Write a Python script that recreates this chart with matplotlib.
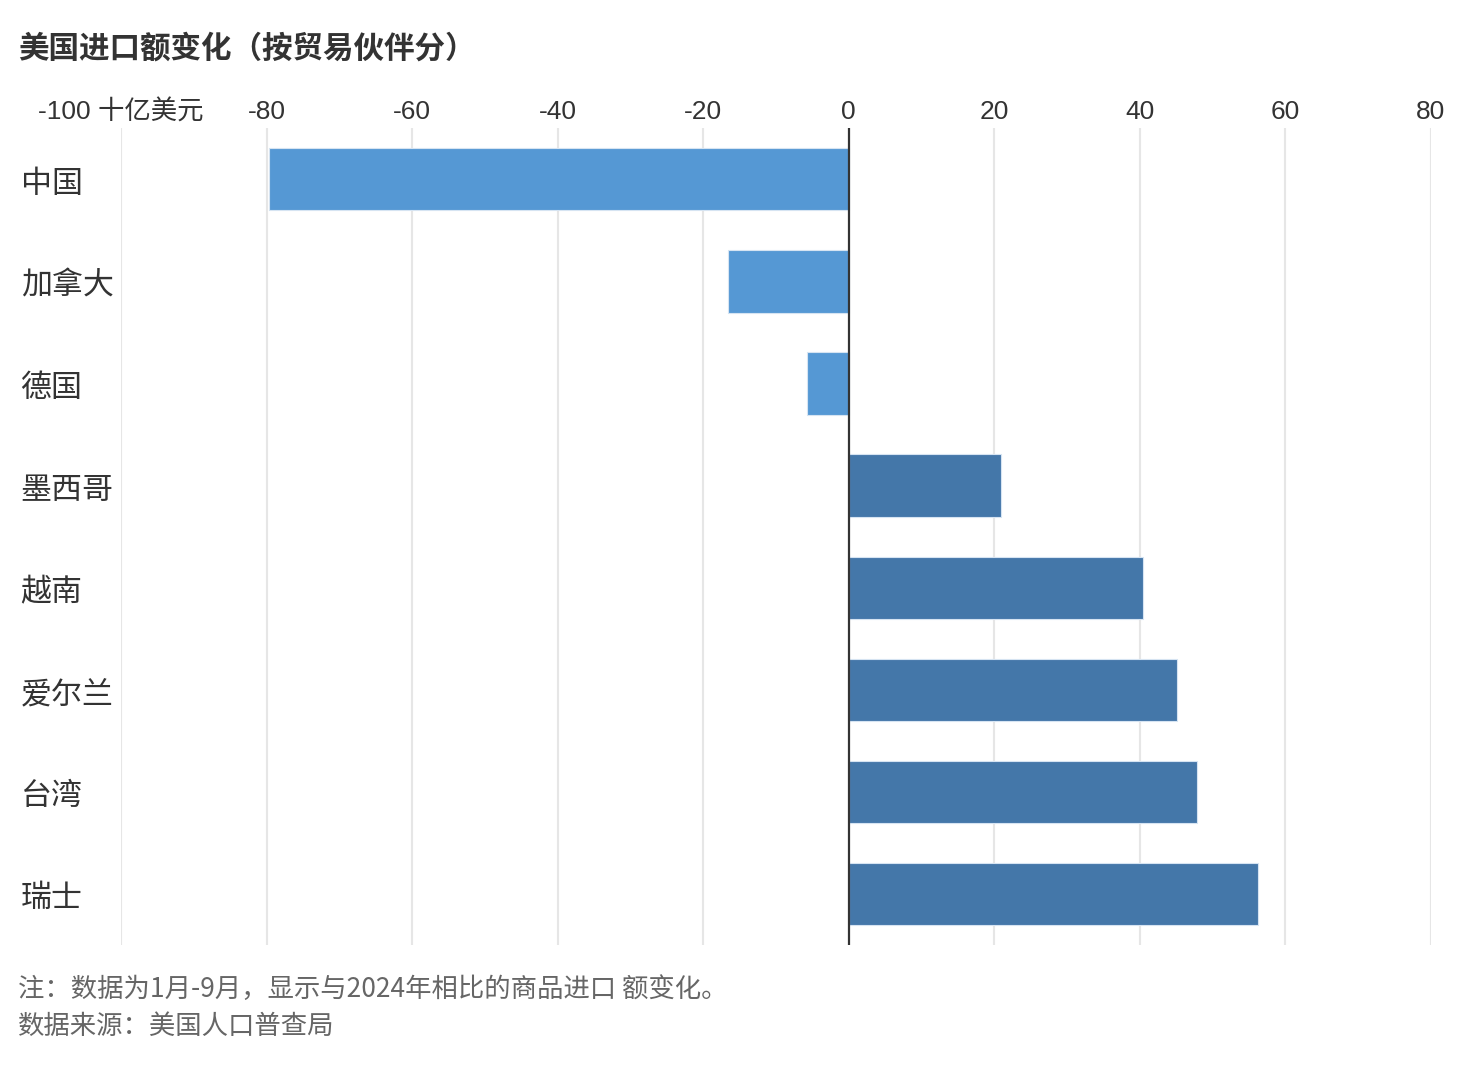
import numpy as np
import matplotlib.pyplot as plt
import matplotlib.transforms as mtransforms

plt.rcParams['font.family'] = ['Liberation Sans', 'Noto Sans CJK SC', 'DejaVu Sans']

# data (billion USD, change vs 2024, Jan-Sep)
partners = ['中国', '加拿大', '德国', '墨西哥', '越南', '爱尔兰', '台湾', '瑞士']
changes = [-79.6, -16.6, -5.8, 20.9, 40.4, 45.1, 47.8, 56.2]
ticks = [-100, -80, -60, -40, -20, 0, 20, 40, 60, 80]
tick_labels = ['-100 十亿美元', '-80', '-60', '-40', '-20', '0', '20', '40', '60', '80']

neg_color = '#5598d4'
pos_color = '#4477a9'

fig = plt.figure(figsize=(14.72, 10.69), dpi=100)
ax = fig.add_axes([0.0822, 0.1160, 0.8899, 0.7640])

y = np.arange(len(partners))
colors = [neg_color if v < 0 else pos_color for v in changes]
ax.barh(y, changes, height=0.61, color=colors, edgecolor='#d6e4f2', linewidth=0.8, zorder=2)

ax.set_xlim(-100, 80)
ax.set_ylim(len(partners) - 0.5, -0.5)

# gridlines
for t in ticks:
    if t != 0:
        ax.axvline(t, color='#e6e6e6', lw=1.5, zorder=1)
ax.axvline(0, color='#333333', lw=1.6, zorder=3)

ax.xaxis.tick_top()
ax.set_xticks(ticks)
ax.set_xticklabels(tick_labels, fontsize=19, color='#333333')
ax.tick_params(axis='x', length=0, pad=3)
ax.set_yticks([])
for s in ax.spines.values():
    s.set_visible(False)

# category labels at left edge of figure
trans = mtransforms.blended_transform_factory(fig.transFigure, ax.transData)
trans = trans + mtransforms.ScaledTranslation(0, -5 / 100, fig.dpi_scale_trans)
for yi, name in zip(y, partners):
    ax.text(0.014, yi, name, transform=trans, ha='left', va='center',
            fontsize=22.3, color='#333333', family=['Noto Sans CJK SC'])

fig.text(0.012, 0.955, '美国进口额变化（按贸易伙伴分）', ha='left', va='center',
         fontsize=22, fontweight='bold', color='#333333', family=['Noto Sans CJK SC'])
fig.text(0.012, 0.074, '注：数据为1月-9月，显示与2024年相比的商品进口 额变化。', ha='left', va='center',
         fontsize=19, color='#666666', family=['Noto Sans CJK SC'])
fig.text(0.012, 0.040, '数据来源：美国人口普查局', ha='left', va='center',
         fontsize=19, color='#666666', family=['Noto Sans CJK SC'])

fig.savefig('out.png', dpi=100)
